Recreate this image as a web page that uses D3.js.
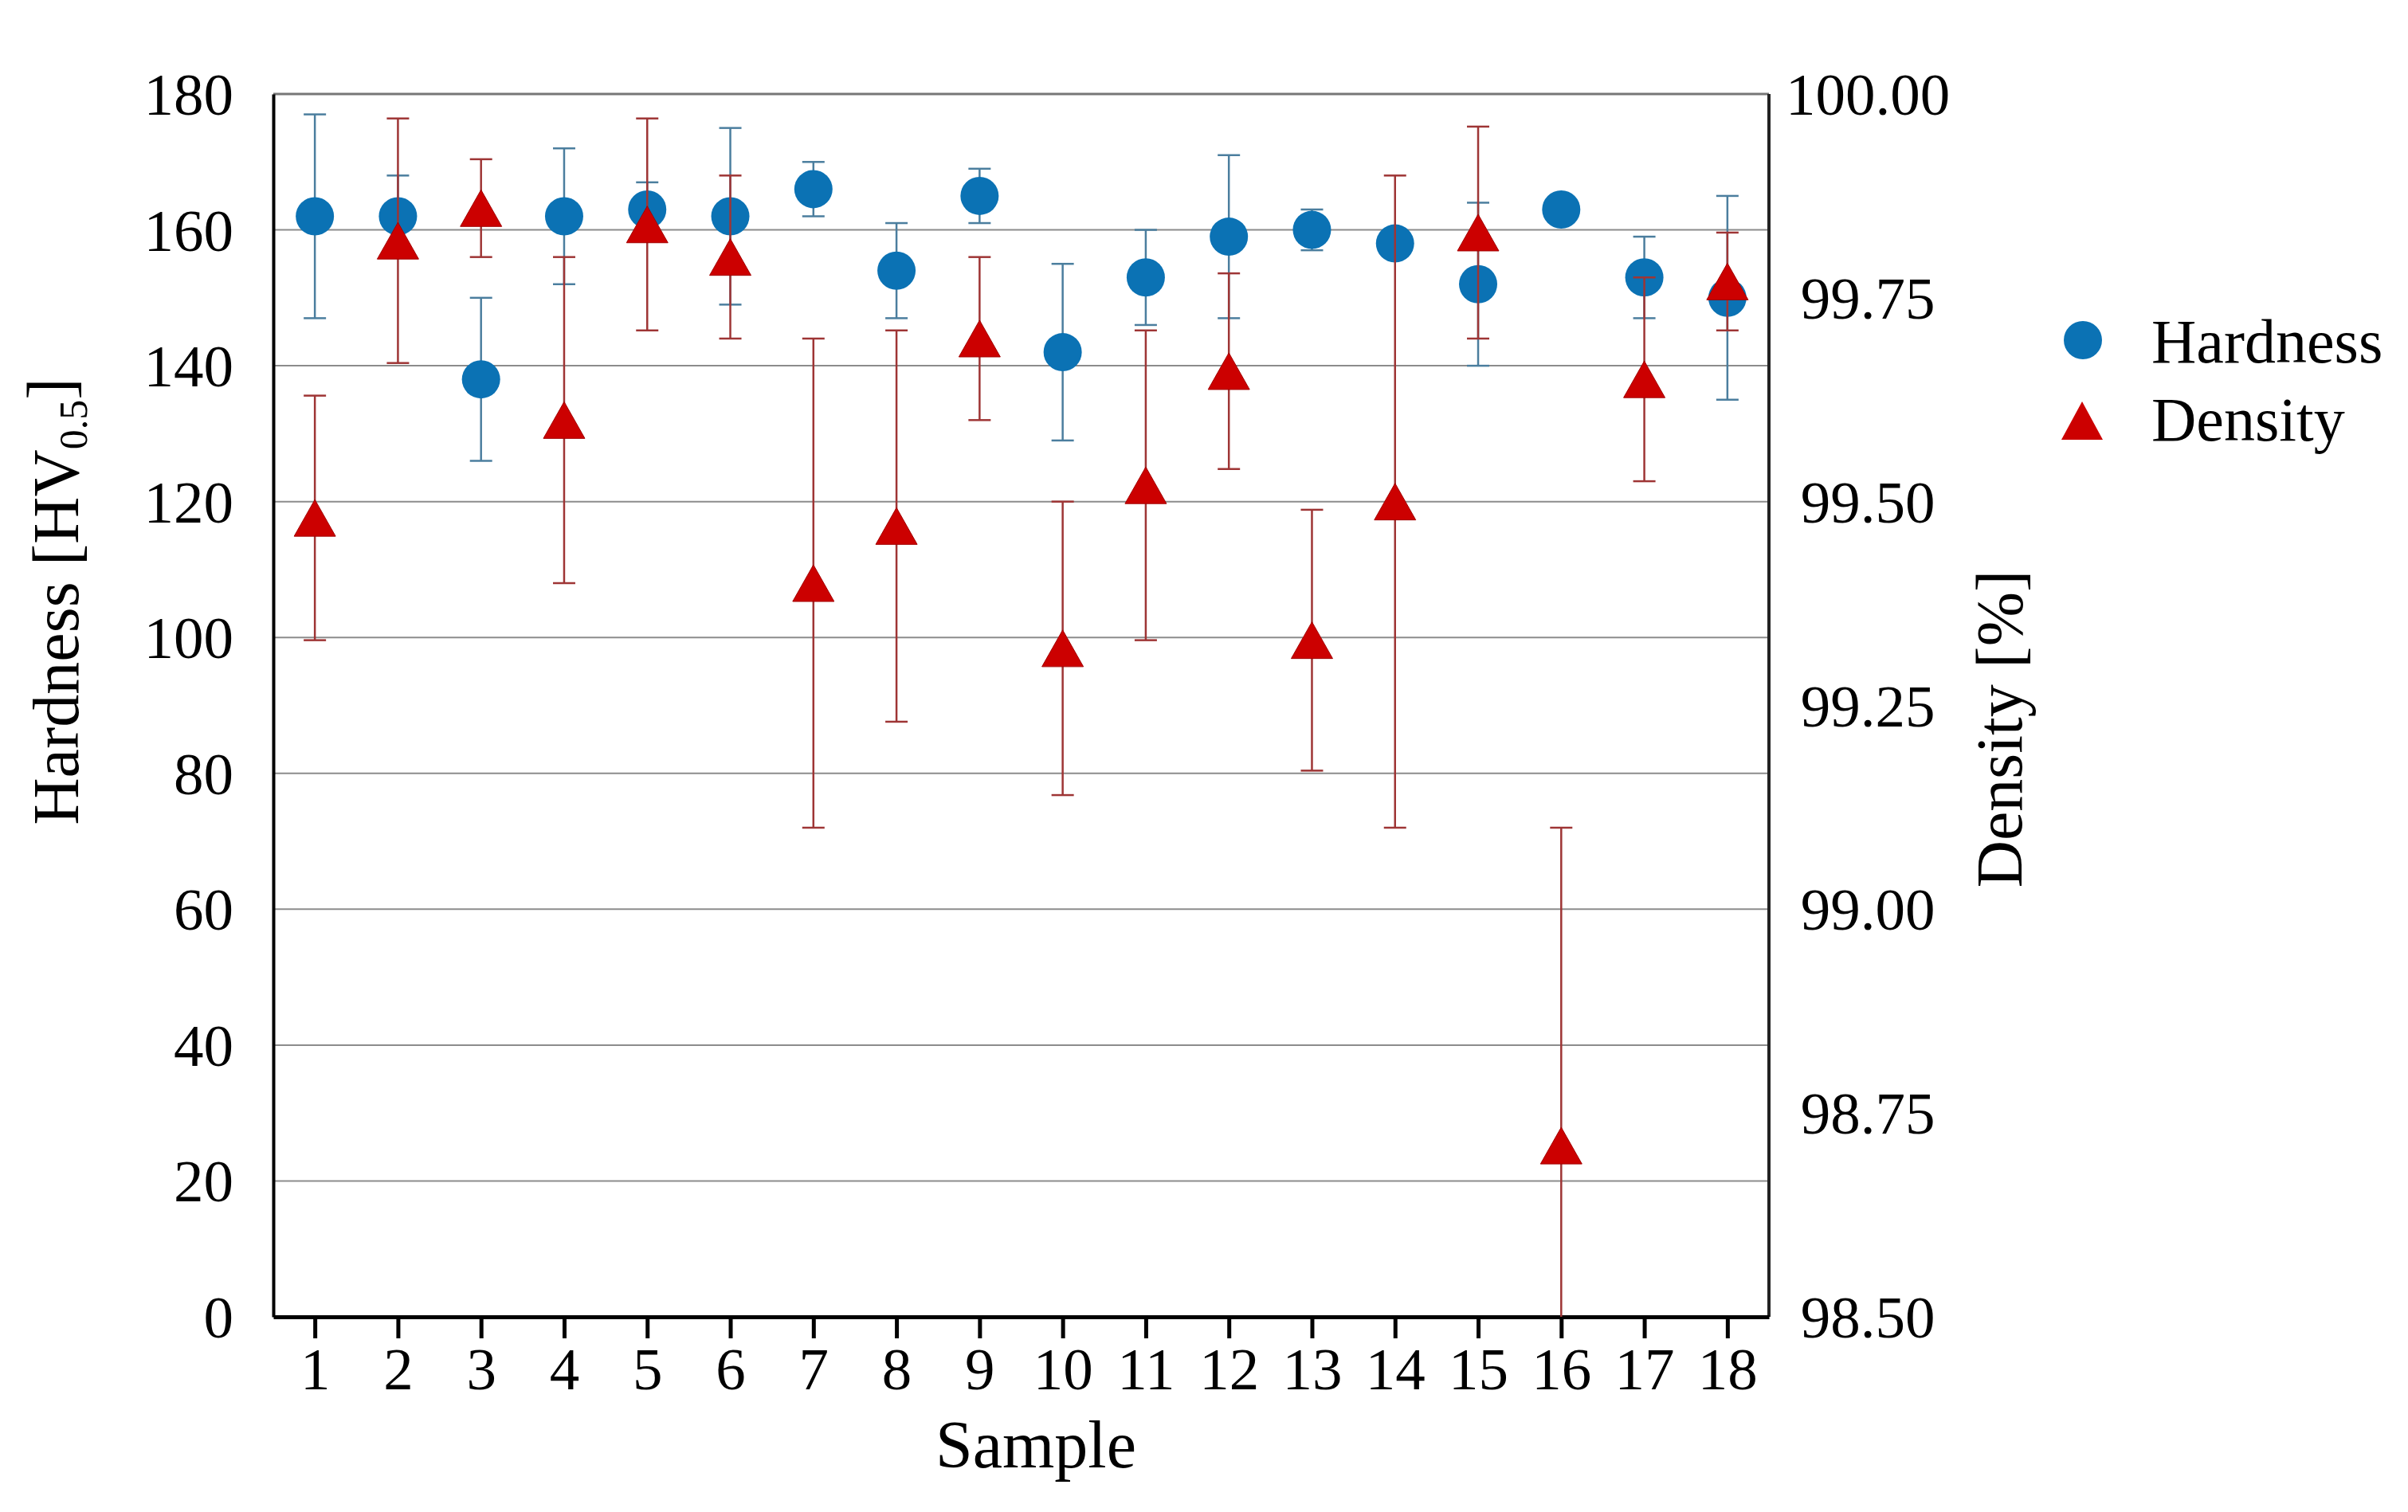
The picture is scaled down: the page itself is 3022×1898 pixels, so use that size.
<!DOCTYPE html>
<html>
<head>
<meta charset="utf-8">
<script src="https://cdn.jsdelivr.net/npm/d3@7"></script>
<style>
  body { margin: 0; background: #fff; }
  text { font-family: "Liberation Serif", "Times New Roman", serif; fill: #000; }
</style>
</head>
<body>
<div id="chart"></div>
<script>
var samples = [1, 2, 3, 4, 5, 6, 7, 8, 9, 10, 11, 12, 13, 14, 15, 16, 17, 18];
var hardness = [162, 162, 138, 162, 163, 162, 166, 154, 165, 142, 153, 159, 160, 158, 152, 163, 153, 150];
var hardnessErr = [15, 6, 12, 10, 4, 13, 4, 7, 4, 13, 7, 12, 3, 2, 12, 1, 6, 15];
var density = [99.48, 99.82, 99.86, 99.60, 99.84, 99.80, 99.40, 99.47, 99.70, 99.32, 99.52, 99.66, 99.33, 99.50, 99.83, 98.71, 99.65, 99.77];
var densityErr = [0.15, 0.15, 0.06, 0.20, 0.13, 0.10, 0.30, 0.24, 0.10, 0.18, 0.19, 0.12, 0.16, 0.40, 0.13, 0.39, 0.125, 0.06];
var hardnessTicks = [0, 20, 40, 60, 80, 100, 120, 140, 160, 180];
var densityTicks = [98.5, 98.75, 99.0, 99.25, 99.5, 99.75, 100.0];

var width = 3022, height = 1898;
var plotLeft = 343, plotRight = 2220, plotTop = 118, plotBottom = 1653;

var blue = "#0b72b4", blueBar = "#4b7e9e";
var red = "#cc0000", redBar = "#9e3535";

var svg = d3.select("#chart").append("svg")
    .attr("width", width)
    .attr("height", height);

svg.append("rect").attr("width", width).attr("height", height).attr("fill", "#fff");

var x = d3.scaleLinear().domain([0.5, 18.5]).range([plotLeft, plotRight]);
var yH = d3.scaleLinear().domain([0, 180]).range([plotBottom, plotTop]);
var yD = d3.scaleLinear().domain([98.5, 100]).range([plotBottom, plotTop]);

svg.append("clipPath").attr("id", "plot")
  .append("rect")
    .attr("x", plotLeft).attr("y", plotTop)
    .attr("width", plotRight - plotLeft).attr("height", plotBottom - plotTop);

// gridlines
svg.append("g")
  .selectAll("line")
    .data(hardnessTicks.slice(1, -1))
  .enter().append("line")
    .attr("x1", plotLeft).attr("x2", plotRight)
    .attr("y1", function(d) { return yH(d); })
    .attr("y2", function(d) { return yH(d); })
    .attr("stroke", "#8c8c8c")
    .attr("stroke-width", 2);

// frame: top grey, right dark
svg.append("line").attr("x1", plotLeft).attr("x2", plotRight).attr("y1", plotTop).attr("y2", plotTop)
    .attr("stroke", "#777").attr("stroke-width", 3);
svg.append("line").attr("x1", plotRight).attr("x2", plotRight).attr("y1", plotTop).attr("y2", plotBottom)
    .attr("stroke", "#222").attr("stroke-width", 4);

// left axis
var axL = svg.append("g")
    .attr("transform", "translate(" + plotLeft + ",0)")
    .call(d3.axisLeft(yH).tickValues(hardnessTicks).tickSize(0).tickPadding(50));
axL.select(".domain").attr("stroke", "#000").attr("stroke-width", 4);
axL.selectAll("text").style("font-size", "75px").attr("dy", "0.34em");

// right axis
var axR = svg.append("g")
    .attr("transform", "translate(" + plotRight + ",0)")
    .call(d3.axisRight(yD).tickValues(densityTicks).tickSize(0).tickFormat(d3.format(".2f")));
axR.select(".domain").remove();
axR.selectAll("text")
    .style("font-size", "75px")
    .attr("x", 124)
    .attr("dy", "0.34em")
    .attr("text-anchor", "middle");

// bottom axis
var axB = svg.append("g")
    .attr("transform", "translate(0," + plotBottom + ")")
    .call(d3.axisBottom(x).tickValues(samples).tickSizeInner(27).tickSizeOuter(0)
        .tickPadding(11).tickFormat(d3.format("d")));
axB.select(".domain").attr("stroke", "#000").attr("stroke-width", 5);
axB.selectAll(".tick line").attr("stroke", "#000").attr("stroke-width", 5);
axB.selectAll("text").style("font-size", "75px");

var plot = svg.append("g").attr("clip-path", "url(#plot)");
var cap = 14;

var errorBars = function(g, vals, errs, scale, color) {
    var bars = g.append("g")
        .selectAll("g")
        .data(samples)
      .enter().append("g")
        .attr("stroke", color)
        .attr("stroke-width", 2.5);
    bars.append("line")
        .attr("x1", function(d) { return x(d); })
        .attr("x2", function(d) { return x(d); })
        .attr("y1", function(d, i) { return scale(vals[i] + errs[i]); })
        .attr("y2", function(d, i) { return scale(vals[i] - errs[i]); });
    bars.append("line")
        .attr("x1", function(d) { return x(d) - cap; })
        .attr("x2", function(d) { return x(d) + cap; })
        .attr("y1", function(d, i) { return scale(vals[i] + errs[i]); })
        .attr("y2", function(d, i) { return scale(vals[i] + errs[i]); });
    bars.append("line")
        .attr("x1", function(d) { return x(d) - cap; })
        .attr("x2", function(d) { return x(d) + cap; })
        .attr("y1", function(d, i) { return scale(vals[i] - errs[i]); })
        .attr("y2", function(d, i) { return scale(vals[i] - errs[i]); });
};

var triangle = function(cx, cy, w, h) {
    return "M" + cx + "," + (cy - h / 2) +
        "L" + (cx + w / 2) + "," + (cy + h / 2) +
        "L" + (cx - w / 2) + "," + (cy + h / 2) + "Z";
};

errorBars(plot, hardness, hardnessErr, yH, blueBar);

plot.append("g")
  .selectAll("circle")
    .data(samples)
  .enter().append("circle")
    .attr("cx", function(d) { return x(d); })
    .attr("cy", function(d, i) { return yH(hardness[i]); })
    .attr("r", 24)
    .attr("fill", blue);

errorBars(plot, density, densityErr, yD, redBar);

plot.append("g")
  .selectAll("path")
    .data(samples)
  .enter().append("path")
    .attr("d", function(d, i) { return triangle(x(d), yD(density[i]), 52, 46); })
    .attr("fill", red)
    .attr("stroke", "#a30000")
    .attr("stroke-width", 1);

// axis titles
svg.append("text")
    .attr("x", 1300)
    .attr("y", 1842)
    .attr("text-anchor", "middle")
    .style("font-size", "84px")
    .text("Sample");

var tH = svg.append("text")
    .attr("transform", "translate(98,755) rotate(-90)")
    .attr("text-anchor", "middle")
    .style("font-size", "82px");
tH.append("tspan").text("Hardness [HV");
tH.append("tspan").attr("dy", "0.22em").style("font-size", "50px").text("0.5");
tH.append("tspan").attr("dy", "-0.22em").text("]");

svg.append("text")
    .attr("transform", "translate(2537,915) rotate(-90)")
    .attr("text-anchor", "middle")
    .style("font-size", "82px")
    .text("Density [%]");

// legend
var legend = svg.append("g");
legend.append("circle")
    .attr("cx", 2614).attr("cy", 427).attr("r", 24)
    .attr("fill", blue);
legend.append("text")
    .attr("x", 2700).attr("y", 455)
    .style("font-size", "78px")
    .text("Hardness");
legend.append("path")
    .attr("d", triangle(2613, 528, 52, 48))
    .attr("fill", red);
legend.append("text")
    .attr("x", 2700).attr("y", 553)
    .style("font-size", "78px")
    .text("Density");
</script>
</body>
</html>
